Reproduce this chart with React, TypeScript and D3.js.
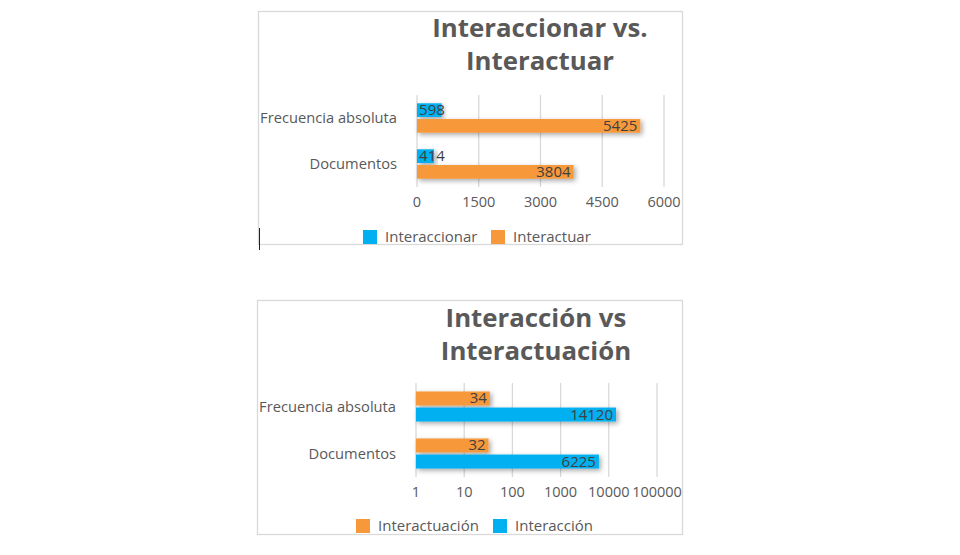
import React, { useEffect, useRef } from "react";
import * as d3 from "d3";

// categories, top to bottom as shown
const categories = ["Frecuencia absoluta", "Documentos"];

// chart 1: Interaccionar vs. Interactuar
const title1 = ["Interaccionar vs.", "Interactuar"];
const series1Names = ["Interaccionar", "Interactuar"];
const interaccionar = [598, 414];
const interactuar = [5425, 3804];
const ticks1 = [0, 1500, 3000, 4500, 6000];

// chart 2: Interacción vs Interactuación (log scale)
const title2 = ["Interacción vs", "Interactuación"];
const series2Names = ["Interactuación", "Interacción"];
const interactuacion = [34, 32];
const interaccion = [14120, 6225];
const ticks2 = [1, 10, 100, 1000, 10000, 100000];

const BLUE = "#00b0f0";
const ORANGE = "#f7993a";
const FONT = "'Open Sans', 'Noto Sans', sans-serif";

function drawChart(svg, opts) {
  const { left, top, width, height, title, names, values, colors, ticks, x, legendX } = opts;
  const g = svg.append("g").attr("transform", `translate(${left},${top})`);

  g.append("rect")
    .attr("x", 0.5).attr("y", 0.5)
    .attr("width", width).attr("height", height)
    .attr("fill", "#fff").attr("stroke", "#d9d9d9").attr("stroke-width", 1.3);

  // title
  g.selectAll(".title")
    .data(title)
    .enter()
    .append("text")
    .attr("x", opts.titleX)
    .attr("y", (d, i) => opts.titleY + i * opts.titleGap)
    .attr("text-anchor", "middle")
    .attr("font-family", FONT)
    .attr("font-weight", 700)
    .attr("font-size", 25.8)
    .attr("fill", "#595959")
    .text((d) => d);

  const y0 = d3.scaleBand().domain(categories).range([opts.plotTop, opts.plotBottom]);
  const bw = y0.bandwidth();
  const y1 = d3.scaleBand().domain(names).range([bw * 0.18, bw * 0.82]).paddingInner(0.13);

  // gridlines
  g.selectAll(".grid")
    .data(ticks)
    .enter()
    .append("line")
    .attr("x1", (d) => x(d)).attr("x2", (d) => x(d))
    .attr("y1", opts.plotTop).attr("y2", opts.plotBottom)
    .attr("stroke", "#d9d9d9").attr("stroke-width", 1.3);

  // tick labels
  g.selectAll(".tick")
    .data(ticks)
    .enter()
    .append("text")
    .attr("x", (d) => x(d))
    .attr("y", opts.plotBottom + 20)
    .attr("text-anchor", "middle")
    .attr("font-family", FONT)
    .attr("font-size", 14.5)
    .attr("fill", "#595959")
    .text((d) => String(d));

  // category labels
  g.selectAll(".cat")
    .data(categories)
    .enter()
    .append("text")
    .attr("x", x.range()[0] - 20)
    .attr("y", (d) => y0(d) + bw / 2 + 5)
    .attr("text-anchor", "end")
    .attr("font-family", FONT)
    .attr("font-size", 14.7)
    .attr("fill", "#595959")
    .text((d) => d);

  const x0 = x.range()[0];
  names.forEach((name, s) => {
    const rows = categories.map((c, i) => ({ c, v: values[s][i] }));
    g.selectAll(".bar" + s)
      .data(rows)
      .enter()
      .append("rect")
      .attr("x", x0)
      .attr("y", (d) => y0(d.c) + y1(name))
      .attr("width", (d) => x(d.v) - x0)
      .attr("height", y1.bandwidth())
      .attr("fill", colors[s])
      .attr("filter", "url(#shadow)");

    g.selectAll(".lab" + s)
      .data(rows)
      .enter()
      .append("text")
      .attr("x", (d) => {
        const w = String(d.v).length * 8.6;
        return Math.max(x(d.v) - 3, x0 + 2 + w);
      })
      .attr("y", (d) => y0(d.c) + y1(name) + y1.bandwidth() / 2 + 5)
      .attr("text-anchor", "end")
      .attr("font-family", FONT)
      .attr("font-size", 15)
      .attr("fill", "#404040")
      .text((d) => String(d.v));
  });

  // legend
  const lg = g.append("g").attr("transform", `translate(0,${opts.legendY})`);
  names.forEach((name, s) => {
    lg.append("rect")
      .attr("x", legendX[s]).attr("y", -7)
      .attr("width", 14).attr("height", 14)
      .attr("fill", colors[s]);
    lg.append("text")
      .attr("x", legendX[s] + 22).attr("y", 5)
      .attr("font-family", FONT)
      .attr("font-size", 15)
      .attr("fill", "#595959")
      .text(name);
  });
}

export default function App() {
  const ref = useRef(null);

  useEffect(() => {
    const svg = d3.select(ref.current);
    svg.selectAll("*").remove();

    const defs = svg.append("defs");
    const f = defs.append("filter").attr("id", "shadow")
      .attr("x", "-10%").attr("y", "-50%").attr("width", "130%").attr("height", "220%");
    f.append("feDropShadow")
      .attr("dx", 2).attr("dy", 2).attr("stdDeviation", 2.5)
      .attr("flood-color", "#000").attr("flood-opacity", 0.35);

    const xA = d3.scaleLinear().domain([0, 6000]).range([159, 406]);
    drawChart(svg, {
      left: 258, top: 11, width: 424, height: 233,
      title: title1, titleX: 282, titleY: 26, titleGap: 33,
      names: series1Names, values: [interaccionar, interactuar], colors: [BLUE, ORANGE],
      ticks: ticks1, x: xA, plotTop: 84, plotBottom: 176,
      legendY: 226, legendX: [105, 233],
    });

    const xB = d3.scaleLog().domain([1, 100000]).range([159, 400]);
    drawChart(svg, {
      left: 257, top: 300, width: 425, height: 234,
      title: title2, titleX: 279, titleY: 27, titleGap: 33,
      names: series2Names, values: [interactuacion, interaccion], colors: [ORANGE, BLUE],
      ticks: ticks2, x: xB, plotTop: 83, plotBottom: 177,
      legendY: 226, legendX: [99, 236],
    });

    // text cursor left in the first chart
    svg.append("line")
      .attr("x1", 259.5).attr("x2", 259.5).attr("y1", 228).attr("y2", 250)
      .attr("stroke", "#222").attr("stroke-width", 1);
  }, []);

  return (
    <svg
      ref={ref}
      width={960}
      height={555}
      style={{ position: "absolute", left: 0, top: 0, background: "#fff" }}
    />
  );
}
